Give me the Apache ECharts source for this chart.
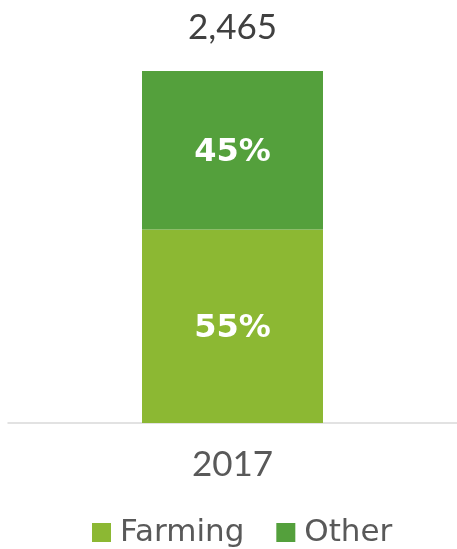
<!DOCTYPE html>
<html>
<head>
<meta charset="utf-8">
<script src="https://cdn.jsdelivr.net/npm/echarts@6/dist/echarts.min.js"></script>
<style>
html,body{margin:0;padding:0;background:#fff;}
#chart{width:457px;height:549px;}
</style>
</head>
<body>
<div id="chart"></div>
<script>
var categories = ['2017'];
var farming = [55];
var other = [45];
var totals = [2465];
var seriesNames = ['Farming', 'Other'];
var colors = ['#8CB833', '#54A03C'];

var chart = echarts.init(document.getElementById('chart'));
var font = 'Lato, "DejaVu Sans", sans-serif';
var wideFont = '"DejaVu Sans", sans-serif';
chart.setOption({
  animation: false,
  textStyle: { fontFamily: font },
  legend: {
    data: seriesNames,
    top: 512,
    left: 87,
    itemWidth: 19,
    itemHeight: 19,
    itemGap: 32,
    icon: 'rect',
    textStyle: { fontSize: 31, color: '#595959', fontFamily: wideFont, padding: [0, 0, 0, 4] }
  },
  grid: { left: 8, right: 0, top: 71, bottom: 126, containLabel: false },
  xAxis: {
    type: 'category',
    data: categories,
    axisLine: { lineStyle: { color: '#D9D9D9', width: 1.5 } },
    axisTick: { show: false },
    axisLabel: { fontSize: 35, color: '#595959', margin: 24, fontFamily: font }
  },
  yAxis: {
    type: 'value',
    min: 0,
    max: 100,
    show: false,
    splitLine: { show: false }
  },
  series: [
    {
      name: seriesNames[0],
      type: 'bar',
      stack: 'total',
      barWidth: 181,
      data: farming,
      itemStyle: { color: colors[0] },
      label: { show: true, position: 'inside', offset: [0, 2], formatter: '{c}%', color: '#fff', fontSize: 32, fontWeight: 'bold', fontFamily: wideFont }
    },
    {
      name: seriesNames[1],
      type: 'bar',
      stack: 'total',
      barWidth: 181,
      data: other,
      itemStyle: { color: colors[1] },
      label: { show: true, position: 'inside', offset: [0, 2], formatter: '{c}%', color: '#fff', fontSize: 32, fontWeight: 'bold', fontFamily: wideFont }
    },
    {
      name: 'Total',
      type: 'bar',
      stack: 'total',
      barWidth: 181,
      data: totals.map(function () { return 0; }),
      itemStyle: { color: 'transparent' },
      label: {
        show: true,
        position: 'top',
        distance: 26,
        color: '#404040',
        fontSize: 35,
        fontFamily: font,
        formatter: function (p) { return totals[p.dataIndex].toLocaleString('en-US'); }
      }
    }
  ]
});
</script>
</body>
</html>
